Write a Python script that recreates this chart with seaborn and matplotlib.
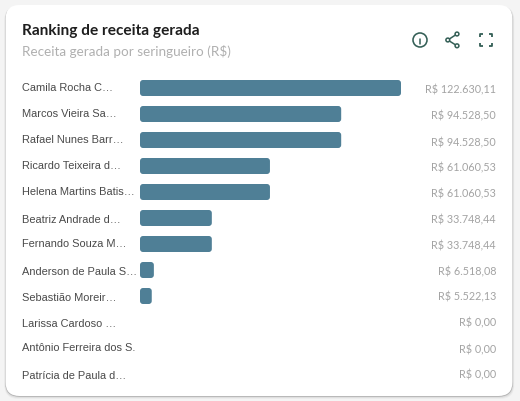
import matplotlib
matplotlib.use("Agg")
import matplotlib.pyplot as plt
from matplotlib.patches import FancyBboxPatch, Circle
import seaborn as sns

# Revenue ranking per rubber tapper
names = ["Camila Rocha C…", "Marcos Vieira Sa…", "Rafael Nunes Barr…", "Ricardo Teixeira d…",
         "Helena Martins Batis…", "Beatriz Andrade d…", "Fernando Souza M…", "Anderson de Paula S…",
         "Sebastião Moreir…", "Larissa Cardoso …", "Antônio Ferreira dos S.", "Patrícia de Paula d…"]
revenue = [122630.11, 94528.50, 94528.50, 61060.53, 61060.53, 33748.44,
           33748.44, 6518.08, 5522.13, 0.0, 0.0, 0.0]
value_labels = ["R$ 122.630,11", "R$ 94.528,50", "R$ 94.528,50", "R$ 61.060,53",
                "R$ 61.060,53", "R$ 33.748,44", "R$ 33.748,44", "R$ 6.518,08",
                "R$ 5.522,13", "R$ 0,00", "R$ 0,00", "R$ 0,00"]
title = "Ranking de receita gerada"
subtitle = "Receita gerada por seringueiro (R$)"

BAR = "#4f7f96"
ICON = "#345f56"
W, H = 520, 401
px = 0.72  # points per pixel at 100 dpi

sns.set_theme(style="white")
fig = plt.figure(figsize=(W / 100, H / 100), dpi=100, facecolor="#f4f4f4")

# Card layer, addressed in pixels
bg = fig.add_axes([0, 0, 1, 1], zorder=0)
bg.set_xlim(0, W)
bg.set_ylim(H, 0)
bg.axis("off")


def card(x0, y0, x1, y1, **kw):
    bg.add_patch(FancyBboxPatch((x0, y0), x1 - x0, y1 - y0,
                                boxstyle="round,pad=0,rounding_size=14", **kw))


# Soft drop shadow, heavier towards the bottom edge
for grow, alpha in [(3, 0.03), (2, 0.05), (1, 0.09), (0.5, 0.16)]:
    card(5.5 - grow * 0.4, 6, 512.5 + grow * 0.6, 396 + grow, fc="black", ec="none", alpha=alpha)
card(5.5, 5, 512.5, 396, fc="white", ec="none")

bg.text(22, 31.5, title, fontsize=15.4 * px, family="Lato", weight="bold",
        color="#1e1e1e", va="center", ha="left")
bg.text(22, 52, subtitle, fontsize=13.5 * px, family="Lato", color="#b0b0b0",
        va="center", ha="left")

# Toolbar icons
line = dict(color=ICON, lw=1.1, solid_capstyle="round")
bg.add_patch(Circle((420, 40), 7.0, fc="none", ec=ICON, lw=1.15))
bg.plot([420, 420], [39, 44], **line)
bg.plot([420, 420], [36, 36.4], **line)
bg.plot([457, 447.8, 457], [34, 40, 45.8], **line)
for cx, cy in [(457, 34), (447.8, 40), (457, 45.8)]:
    bg.add_patch(Circle((cx, cy), 1.9, fc="white", ec=ICON, lw=1.1, zorder=3))
for sx, sy, x, y in [(1, 1, 480, 34.2), (-1, 1, 491.5, 34.2), (1, -1, 480, 45.8), (-1, -1, 491.5, 45.8)]:
    bg.plot([x, x, x + sx * 3], [y + sy * 3, y, y], color=ICON, lw=1.3, solid_capstyle="butt")

# Ranking bars
top, bottom, left, right = 75, 387, 140, 401
ax = fig.add_axes([left / W, 1 - bottom / H, (right - left) / W, (bottom - top) / H], zorder=1)
ax.patch.set_alpha(0)
sns.barplot(x=revenue, y=names, orient="h", color=BAR, saturation=1, width=16 / 26, ax=ax)
ax.set_xlim(0, max(revenue))
ax.set_ylim(11.5, -0.5)
ax.set_xlabel("")
ax.set_ylabel("")
ax.set_xticks([])
ax.set_yticks([])
sns.despine(ax=ax, left=True, bottom=True)

# Swap the square bars for ones with rounded corners
row_px = (bottom - top) / 12
unit_x = max(revenue) / (right - left)
for bar in list(ax.patches):
    x, y, w, h = bar.get_x(), bar.get_y(), bar.get_width(), bar.get_height()
    bar.set_visible(False)
    if w > 0:
        ax.add_patch(FancyBboxPatch((x, y), w, h, boxstyle=f"round,pad=0,rounding_size={3 * unit_x}",
                                    mutation_aspect=(1 / row_px) / unit_x, fc=BAR, ec="none"))

# Row text: names on the left, formatted values on the right
name_nudge = [0, 0, 0, 0, 0, 2, 0, 2, 2, 2, 0, 2]
value_nudge = [1.5, 1.5, 2.5, 1.5, 1.5, 1.5, 1.5, 1.5, 0.5, 0.5, 1.5, 0.5]
for i, (name, label) in enumerate(zip(names, value_labels)):
    bg.text(22, top + row_px * (i + 0.5) + name_nudge[i], name, fontsize=11 * px,
            family="Liberation Sans", color="#4a4a4a", va="center", ha="left")
    bg.text(496, top + row_px * (i + 0.5) + value_nudge[i], label, fontsize=10.8 * px,
            family="Lato", color="#a3a3a3", va="center", ha="right")

fig.savefig("out.png", dpi=100, facecolor=fig.get_facecolor())
